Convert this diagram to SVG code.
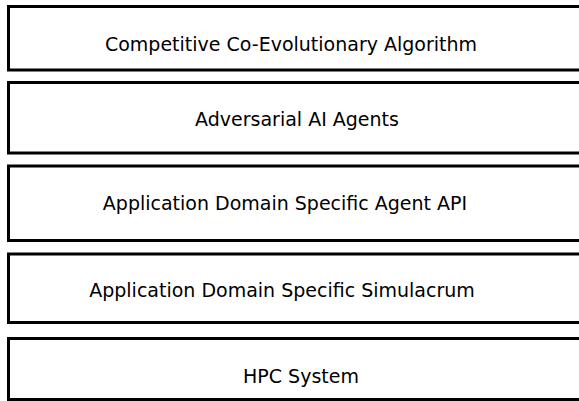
<svg xmlns="http://www.w3.org/2000/svg" width="579" height="401" viewBox="0 0 579 401">
<style>
.box{fill:#fff;stroke:#000;stroke-width:3}
.lbl{font-family:"DejaVu Sans","Liberation Sans",sans-serif;font-size:19px;fill:#000;text-anchor:middle}
</style>
<rect width="579" height="401" fill="#fff"/>
<g id="layer1"><rect class="box" x="8.5" y="6.5" width="575" height="63.5"/><text class="lbl" x="291" y="51">Competitive Co-Evolutionary Algorithm</text></g>
<g id="layer2"><rect class="box" x="8.5" y="82.5" width="575" height="70.5"/><text class="lbl" x="297" y="126">Adversarial AI Agents</text></g>
<g id="layer3"><rect class="box" x="8.5" y="166" width="575" height="74.5"/><text class="lbl" x="285" y="210">Application Domain Specific Agent API</text></g>
<g id="layer4"><rect class="box" x="8.5" y="254" width="575" height="68.5"/><text class="lbl" x="282" y="297">Application Domain Specific Simulacrum</text></g>
<g id="layer5"><rect class="box" x="8.5" y="338.5" width="575" height="61"/><text class="lbl" x="301" y="383">HPC System</text></g>
<g id="connectors"></g>
</svg>
